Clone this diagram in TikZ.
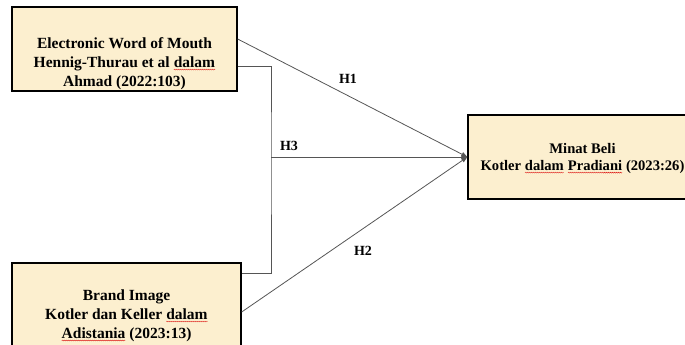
\documentclass[tikz,border=0pt]{standalone}
\usepackage{fontspec}
\setmainfont{Liberation Serif}
\usetikzlibrary{arrows.meta,decorations.pathmorphing}
\definecolor{boxfill}{HTML}{FCEFCF}
\definecolor{linegray}{HTML}{555555}
\newcommand{\spellmark}[1]{\tikz[baseline=(w.base),x=1cm,y=1cm]{\node[inner sep=0pt,outer sep=0pt,
		minimum width=0pt,minimum height=0pt,draw=none,fill=none,align=left] (w) {#1};
	\draw[red!85!black,line width=0.3pt,decorate,decoration={snake,amplitude=0.5pt,segment length=2pt}]
		([yshift=-1.8pt]w.base west) -- ([yshift=-1.8pt]w.base east);}}
\begin{document}
\begin{tikzpicture}[
		x=1pt,y=-1pt,
		varbox/.style={draw=black,line width=1.3pt,fill=boxfill,inner sep=0pt},
		boxtext/.style={inner sep=0pt,align=center,font=\fontsize{15.5}{19}\selectfont\bfseries},
		link/.style={draw=linegray,line width=0.8pt},
		tip/.style={-{Triangle[length=6pt,width=4.5pt]}},
		hyp/.style={font=\fontsize{14}{16}\selectfont\bfseries}
	]
	\useasboundingbox (0,0) rectangle (685,345);
	\clip (0,0) rectangle (685,345);
	\node[varbox,minimum width=225pt,minimum height=84pt,
		label={[boxtext,yshift=-15pt]center:{Electronic Word of Mouth\\Hennig-Thurau et al \spellmark{dalam}\\Ahmad (2022:103)}}]
		(ewom) at (124.5,49) {};
	\node[varbox,minimum width=229pt,minimum height=102pt,
		label={[boxtext,yshift=-2pt]center:{Brand Image\\Kotler dan Keller \spellmark{dalam}\\\spellmark{Adistania} (2023:13)}}]
		(brand) at (126.5,314) {};
	\node[varbox,minimum width=232pt,minimum height=84pt,
		label={[boxtext,font=\fontsize{14.6}{17.5}\selectfont\bfseries,xshift=-1.5pt,yshift=-1.5pt]center:{Minat Beli\\Kotler \spellmark{dalam} \spellmark{Pradiani} (2023:26)}}]
		(minat) at (584,157) {};
	\coordinate (join) at (271,157);
	\draw[link,tip] ([yshift=10pt]ewom.east) -- (minat.west);
	\draw[link] ([yshift=-17pt]ewom.east) -| (join) |- ([yshift=41pt]brand.east);
	\draw[link,tip] (join) -- (minat.west);
	\draw[link,tip] ([yshift=2pt]brand.east) -- (minat.west);
	\node[hyp] (h1) at (348,79) {H1};
	\node[hyp] (h3) at (289,146) {H3};
	\node[hyp] (h2) at (363,251) {H2};
\end{tikzpicture}
\end{document}
